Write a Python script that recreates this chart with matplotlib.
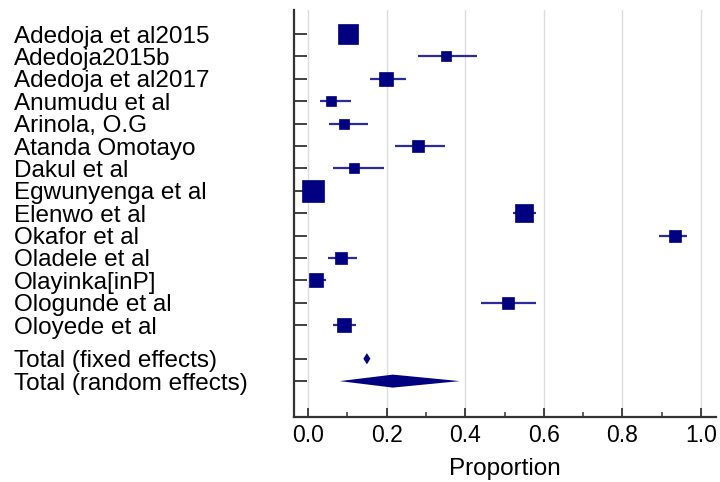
import matplotlib
matplotlib.use("Agg")
import matplotlib.pyplot as plt
import numpy as np
from matplotlib.ticker import MultipleLocator

plt.rcParams["font.family"] = ["Liberation Sans", "DejaVu Sans"]

studies = [
    "Adedoja et al2015", "Adedoja2015b", "Adedoja et al2017", "Anumudu et al",
    "Arinola, O.G", "Atanda Omotayo", "Dakul et al", "Egwunyenga et al",
    "Elenwo et al", "Okafor et al", "Oladele et al", "Olayinka[inP]",
    "Ologunde et al", "Oloyede et al",
]
proportion = [0.103, 0.352, 0.199, 0.059, 0.093, 0.281, 0.118, 0.012,
              0.550, 0.933, 0.083, 0.020, 0.509, 0.092]
ci_low = [0.090, 0.280, 0.157, 0.030, 0.053, 0.221, 0.064, 0.004,
          0.521, 0.892, 0.052, 0.005, 0.439, 0.065]
ci_high = [0.118, 0.431, 0.249, 0.109, 0.153, 0.348, 0.193, 0.024,
           0.581, 0.964, 0.124, 0.047, 0.581, 0.122]
weight = [13.2, 4.4, 6.2, 4.4, 4.4, 5.3, 3.7, 17.7, 11.9, 5.3, 5.3, 6.2, 5.3, 7.2]

total_labels = ["Total (fixed effects)", "Total (random effects)"]
total_est = [0.150, 0.216]
total_low = [0.141, 0.081]
total_high = [0.159, 0.386]

navy = "#000080"

fig = plt.figure(figsize=(7.2, 4.82), dpi=100)
ax = fig.add_axes([0.408, 0.135, 0.586, 0.844])

rows = np.arange(len(studies))
total_rows = [len(studies) + 0.5, len(studies) + 1.5]

# confidence intervals, then weighted squares on top
ax.hlines(rows, ci_low, ci_high, color="#2b2b9c", lw=1.6, zorder=3)
sizes = 5.23 * np.sqrt(weight) * 0.72  # px -> pt
for x, y, s in zip(proportion, rows, sizes):
    ax.plot(x, y, marker="s", ms=s, color=navy, mec=navy, mew=0.5, zorder=4)

# pooled estimates as diamonds
half_h = [0.25, 0.29]
for est, lo, hi, y, h in zip(total_est, total_low, total_high, total_rows, half_h):
    ax.fill([lo, est, hi, est], [y, y - h, y, y + h], color=navy, lw=0, zorder=4)

ax.set_xlim(-0.036, 1.037)
ax.set_ylim(17.1, -1.07)

ax.xaxis.set_minor_locator(MultipleLocator(0.1))
ax.set_xticks(np.arange(0, 1.01, 0.2))
ax.set_xticklabels([f"{v:.1f}" for v in np.arange(0, 1.01, 0.2)])
ax.grid(axis="x", which="major", color="#dcdcdc", lw=1.0, zorder=0)

ax.set_yticks(list(rows) + total_rows)
ax.set_yticklabels(studies + total_labels, fontsize=17.5)
for lbl in ax.get_yticklabels():
    lbl.set_horizontalalignment("left")
ax.tick_params(axis="y", direction="in", length=9.5, width=1.3, pad=201.6, color="#333333")
ax.tick_params(axis="x", which="major", direction="in", length=6.5, width=1.3, pad=5,
               labelsize=16.5, color="#333333")
ax.tick_params(axis="x", which="minor", direction="in", length=3.5, width=1.1, color="#333333")

ax.set_xlabel("Proportion", fontsize=17.5, labelpad=8)

for side in ["top", "right"]:
    ax.spines[side].set_visible(False)
for side in ["left", "bottom"]:
    ax.spines[side].set_linewidth(1.6)
    ax.spines[side].set_color("#333333")

fig.savefig("out.png", dpi=100)
